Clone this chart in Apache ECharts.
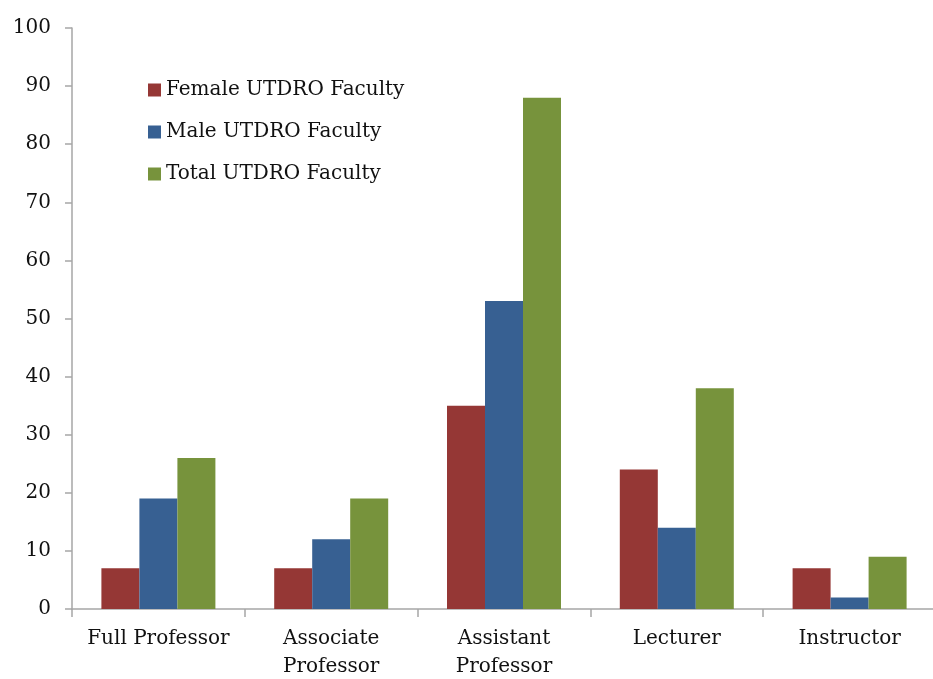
<!DOCTYPE html>
<html>
<head>
<meta charset="utf-8">
<script src="https://cdn.jsdelivr.net/npm/echarts@6/dist/echarts.min.js"></script>
<style>
  html, body { margin: 0; padding: 0; background: #fff; }
  #main { width: 933px; height: 679px; }
</style>
</head>
<body>
<div id="main"></div>
<script>
// data
var categories = ['Full Professor', 'Associate\nProfessor', 'Assistant\nProfessor', 'Lecturer', 'Instructor'];
var female = [7, 7, 35, 24, 7];
var male = [19, 12, 53, 14, 2];
var total = [26, 19, 88, 38, 9];

var font = 'DejaVu Serif';

var myChart = echarts.init(document.getElementById('main'));
var option = {
    animation: false,
    textStyle: { fontFamily: font },
    grid: {
        left: 72,
        top: 28,
        width: 864,
        height: 581,
        containLabel: false,
        outerBoundsMode: 'none'
    },
    legend: {
        orient: 'vertical',
        left: 148,
        top: 80,
        padding: 0,
        itemWidth: 13,
        itemHeight: 13,
        itemGap: 22,
        icon: 'rect',
        textStyle: { fontFamily: font, fontSize: 20, color: '#111' },
        data: ['Female UTDRO Faculty', 'Male UTDRO Faculty', 'Total UTDRO Faculty']
    },
    xAxis: {
        type: 'category',
        data: categories,
        axisLine: { lineStyle: { color: '#a6a6a6', width: 1.5 } },
        axisTick: { show: true, length: 8, lineStyle: { color: '#a6a6a6', width: 1.5 } },
        axisLabel: {
            fontFamily: font,
            fontSize: 20,
            color: '#111',
            margin: 16,
            lineHeight: 28,
            interval: 0
        }
    },
    yAxis: {
        type: 'value',
        min: 0,
        max: 100,
        interval: 10,
        splitLine: { show: false },
        axisLine: { show: true, lineStyle: { color: '#a6a6a6', width: 1.5 } },
        axisTick: { show: true, length: 7, lineStyle: { color: '#a6a6a6', width: 1.5 } },
        axisLabel: {
            fontFamily: font,
            fontSize: 20,
            color: '#111',
            margin: 21
        }
    },
    series: [{
            name: 'Female UTDRO Faculty',
            type: 'bar',
            data: female,
            barWidth: 38,
            barGap: '0%',
            itemStyle: { color: '#953735' }
        },
        {
            name: 'Male UTDRO Faculty',
            type: 'bar',
            data: male,
            barWidth: 38,
            barGap: '0%',
            itemStyle: { color: '#376092' }
        },
        {
            name: 'Total UTDRO Faculty',
            type: 'bar',
            data: total,
            barWidth: 38,
            barGap: '0%',
            itemStyle: { color: '#77933c' }
        }
    ]
};
myChart.setOption(option);
</script>
</body>
</html>
